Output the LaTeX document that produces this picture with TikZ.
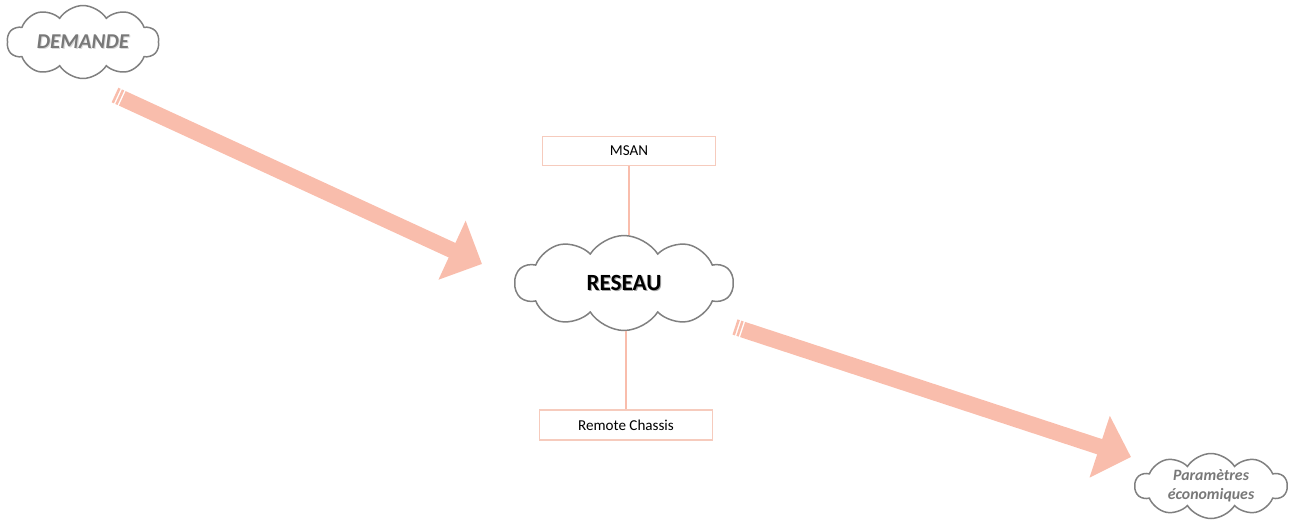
\documentclass[tikz,border=0pt]{standalone}
\usepackage{fontspec}
\setmainfont{Carlito}
\usetikzlibrary{shapes.symbols,arrows.meta,calc,positioning}
\definecolor{saumon}{RGB}{249,189,172}
\definecolor{bordure}{RGB}{246,203,189}
\definecolor{gristexte}{RGB}{120,120,120}
\definecolor{griscontour}{RGB}{128,128,128}
\newcommand{\ombre}[2][black!35]{\makebox[0pt][l]{\hspace{0.6pt}\raisebox{-0.6pt}{\textcolor{#1}{#2}}}#2}
\tikzset{
  nuage/.style={cloud, cloud puffs=10, cloud puff arc=115, cloud ignores aspect,
    draw=griscontour, line width=0.85pt, fill=white, align=center, inner sep=0pt},
  boite/.style={draw=bordure, line width=0.6pt, minimum width=3.46cm,
    minimum height=0.58cm, font=\fontsize{8.6}{10}\selectfont},
  lien/.style={draw=saumon, line width=0.7pt},
  fleche/.style={saumon, line width=0.32cm, -{Triangle[length=0.66cm,width=1.26cm]}},
  rayure/.style={saumon, line width=0.32cm}
}
\begin{document}
\begin{tikzpicture}[x=0.02cm, y=-0.02cm]
  \useasboundingbox (0,0) rectangle (1290,528);
  % nuages
  \node [nuage, minimum width=3.04cm, minimum height=1.46cm,
    font=\fontsize{12}{14}\selectfont\bfseries\itshape\color{gristexte}]
    (demande) at (83,42) {\ombre[black!15]{DEMANDE}};
  \node [nuage, minimum width=4.36cm, minimum height=1.9cm,
    font=\fontsize{13.2}{15}\selectfont\bfseries]
    (reseau) at (624,283) {\ombre{RESEAU}};
  \node [nuage, minimum width=3.04cm, minimum height=1.3cm,
    font=\fontsize{9}{10.8}\selectfont\bfseries\itshape\color{gristexte}]
    (param) at (1211,486) {Paramètres\\économiques};
  % boites
  \node [boite] (msan) at (629,151) {MSAN};
  \node [boite, minimum height=0.6cm] (chassis) at (626,425) {Remote Chassis};
  \draw [lien] (msan.south) -- (msan.south |- reseau.north);
  \draw [lien] (chassis.north) -- (chassis.north |- reseau.south);
  % fleches
  \coordinate (d1) at (115,95);
  \coordinate (d2) at (482,264);
  \coordinate (r1) at (735,327);
  \coordinate (r2) at (1131,457);
  \foreach \a/\b in {d1/d2, r1/r2} {
    \draw [rayure] (\a) -- ($(\a)!0.05cm!(\b)$);
    \draw [rayure] ($(\a)!0.08cm!(\b)$) -- ($(\a)!0.13cm!(\b)$);
    \draw [fleche] ($(\a)!0.16cm!(\b)$) -- (\b);
  }
\end{tikzpicture}
\end{document}
